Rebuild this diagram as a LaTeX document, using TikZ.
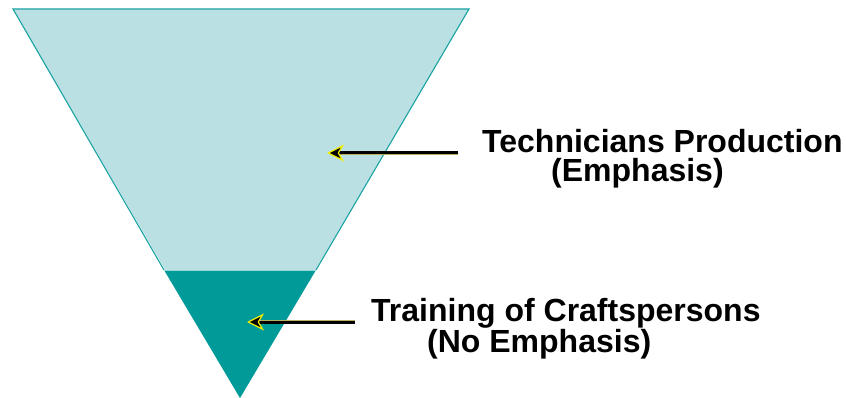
\documentclass[tikz,border=0pt]{standalone}
\usepackage{fontspec}
\setmainfont{Liberation Sans}
\usetikzlibrary{arrows.meta}
\definecolor{lightteal}{HTML}{BAE0E3}
\definecolor{darkteal}{HTML}{009A98}
\definecolor{edgeteal}{HTML}{18A3A1}
\definecolor{tipyellow}{HTML}{F2F000}
\definecolor{lineedge}{HTML}{B8B060}
\tikzset{
  lbl/.style={anchor=base west, inner sep=0pt, align=left, font=\fontsize{32}{29}\selectfont\bfseries},
  pointer/.style={line width=3pt, black,
    preaction={draw=lineedge, line width=3.8pt, shorten >=12pt, -},
    -{Stealth[length=17pt,width=17pt,inset=5pt,color=tipyellow,fill=black,line width=1.2pt]}}
}
\begin{document}
\begin{tikzpicture}[x=1pt,y=-1pt]
\useasboundingbox (0,0) rectangle (846,398);
% funnel
\coordinate (tl) at (13,9);
\coordinate (tr) at (469,9);
\coordinate (apex) at (240,398);
\coordinate (ml) at (164,270);
\coordinate (mr) at (316,270);
\fill[lightteal] (tl) -- (tr) -- (apex) -- cycle;
\fill[darkteal] (ml) -- (mr) -- (apex) -- cycle;
\draw[edgeteal, line width=1.1pt, line join=miter] (ml) -- (tl) -- (tr) -- (mr);
\draw[white!60!darkteal, line width=0.6pt] (ml) -- (mr);
% labels
\node[lbl] (t1) at (482,182) {Technicians Production\\\hspace*{69pt}(Emphasis)};
\node[lbl] (b1) at (371,352) {Training of Craftspersons\\\hspace*{56pt}(No Emphasis)};
% arrows
\coordinate (a1s) at (458,153);
\coordinate (a1e) at (327,153);
\coordinate (a2s) at (355,322);
\coordinate (a2e) at (247,322);
\draw[pointer] (a1s) -- (a1e);
\draw[pointer] (a2s) -- (a2e);
\end{tikzpicture}
\end{document}
